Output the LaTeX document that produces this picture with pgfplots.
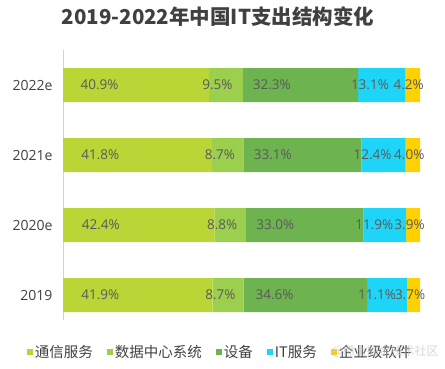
\documentclass[border=0pt]{standalone}
\usepackage{pgfplots}
\usepackage{pgfplotstable}
\pgfplotsset{compat=1.18}
\usepackage{fontspec}
\setmainfont{Open Sans}
\newfontfamily\cjk{Noto Sans CJK SC}
\definecolor{c1}{HTML}{B9D636}
\definecolor{c2}{HTML}{9CCF4D}
\definecolor{c3}{HTML}{6DB34F}
\definecolor{c4}{HTML}{1FD5F7}
\definecolor{c5}{HTML}{FFD100}
\definecolor{lbl}{HTML}{5A5A5A}
\definecolor{ttl}{HTML}{404040}
\pgfplotstableread{
k s1 s2 s3 s4 s5
0 41.9 8.7 34.6 11.1 3.7
1 42.4 8.8 33.0 11.9 3.9
2 41.8 8.7 33.1 12.4 4.0
3 40.9 9.5 32.3 13.1 4.2
}\datatable
\begin{document}
\begin{tikzpicture}[x=1pt,y=1pt]
\path[use as bounding box] (0,0) rectangle (445,-368);
\node[font=\cjk\bfseries\fontsize{20.5}{24}\selectfont, text=ttl] at (218,-17) {2019-2022年中国IT支出结构变化};
\begin{axis}[
  at={(63pt,-320pt)}, anchor=south west,
  scale only axis, width=357pt, height=270pt,
  xbar stacked, bar width=34pt,
  xmin=0, xmax=100, ymin=-0.357, ymax=3.5,
  axis x line=none, axis y line*=left,
  y axis line style={-, draw=gray!35, line width=0.8pt},
  ytick={0,1,2,3}, yticklabels={2019,2020e,2021e,2022e},
  major tick length=0pt,
  /pgf/number format/assume math mode=true,
  yticklabel style={font=\fontsize{14}{16}\selectfont, text=ttl, xshift=-7pt},
  point meta=explicit,
  nodes near coords={\pgfmathprintnumber[fixed,fixed zerofill,precision=1,assume math mode=true]{\pgfplotspointmeta}\%},
  every node near coord/.append style={anchor=center, xshift={-0.8925pt*\rawx}, font=\fontsize{13.5}{16}\selectfont, text=lbl, inner sep=0pt},
  lab/.style={visualization depends on={\thisrow{#1}\as\rawx}},
  legend style={at={(0.44,-0.119)}, anchor=center, draw=none, fill=none, legend columns=-1,
    font=\cjk\fontsize{14.5}{16}\selectfont, text=ttl,
    /tikz/every even column/.append style={column sep=12pt}},
  legend image code/.code={\fill[#1] (0pt,-3pt) rectangle (6pt,3pt);},
]
\addplot[fill=c1, draw=none, lab=s1] table[x=s1, y=k, meta=s1] {\datatable};
\addplot[fill=c2, draw=none, lab=s2] table[x=s2, y=k, meta=s2] {\datatable};
\addplot[fill=c3, draw=none, lab=s3] table[x=s3, y=k, meta=s3] {\datatable};
\addplot[fill=c4, draw=none, lab=s4] table[x=s4, y=k, meta=s4] {\datatable};
\addplot[fill=c5, draw=none, lab=s5] table[x=s5, y=k, meta=s5] {\datatable};
\legend{通信服务,数据中心系统,设备,IT服务,企业级软件}
\end{axis}
\node[font=\cjk\fontsize{12}{14}\selectfont, text=gray!45, opacity=0.7] at (385,-351) {@稀土掘金技术社区};
\end{tikzpicture}
\end{document}
